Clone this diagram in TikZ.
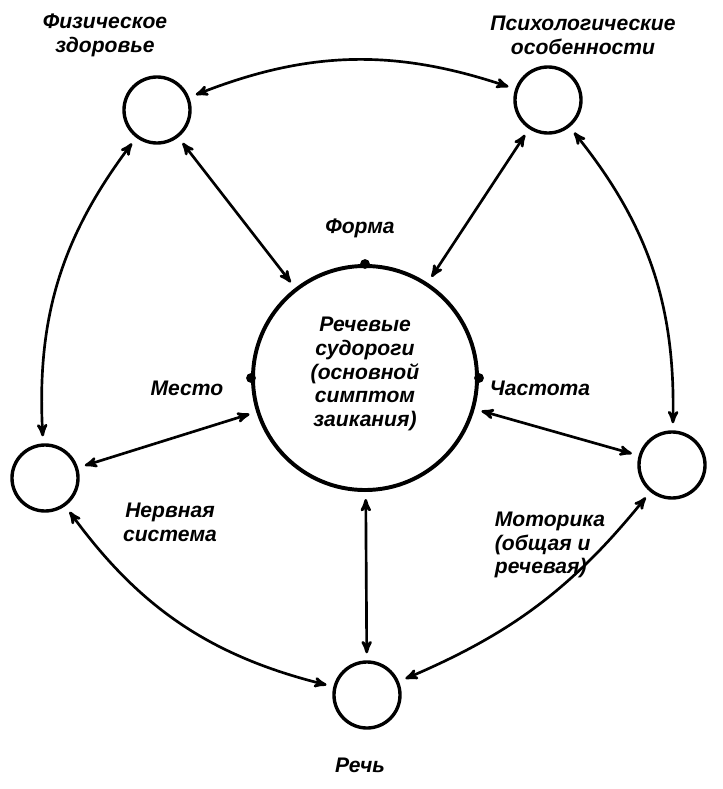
\documentclass[tikz,border=0pt]{standalone}
\usepackage{fontspec}
\setmainfont{Liberation Sans}
\usetikzlibrary{arrows}

\begin{document}
\begin{tikzpicture}[x=0.025cm,y=-0.025cm,>=stealth',
  factor/.style={circle,draw,line width=2.4pt,minimum size=1.65cm,inner sep=0pt},
  label node/.style={font=\bfseries\itshape\fontsize{15}{17}\selectfont,align=center},
  link/.style={<->,line width=1.9pt,shorten <=5pt,shorten >=5pt},
  dot/.style={circle,fill,inner sep=0pt,minimum size=7pt}]
  \useasboundingbox (0,0) rectangle (723,789);
  \node[factor]   (phys) at (157,110) {};
  \node[factor]   (psy)  at (548,100) {};
  \node[factor]   (nerv) at (45,478)  {};
  \node[factor]   (mot)  at (672,465) {};
  \node[factor]   (speech) at (367,695) {};
  \node[circle,draw,line width=2.8pt,minimum size=5.6cm,inner sep=0pt] (core) at (365,378) {};
  \node[label node] (coretext) at (365,374)
    {Речевые\\судороги\\(основной\\симптом\\заикания)};
  \node[dot] (form)  at (core.north) {};
  \node[dot] (place) at (core.west)  {};
  \node[dot] (freq)  at (core.east)  {};
  \node[label node] at (105,35)  {Физическое\\здоровье};
  \node[label node] at (583,35)  {Психологические\\особенности};
  \node[label node] at (360,228) {Форма};
  \node[label node] at (187,388) {Место};
  \node[label node] at (540,388) {Частота};
  \node[label node] at (170,522) {Нервная\\система};
  \node[label node,align=left] at (550,545) {Моторика\\(общая и\\речевая)};
  \node[label node] at (360,765) {Речь};
  \draw[link] (phys) to[bend left=20]  (psy);
  \draw[link] (phys) to[bend right=20] (nerv);
  \draw[link] (psy)  to[bend left=20]  (mot);
  \draw[link] (nerv) to[bend right=20] (speech);
  \draw[link] (speech) to[bend right=14] (mot);
  \draw[link] (phys) -- (core);
  \draw[link] (psy)  -- (core);
  \draw[link] (nerv) -- (core);
  \draw[link] (mot)  -- (core);
  \draw[link] (speech) -- (core);
\end{tikzpicture}
\end{document}
